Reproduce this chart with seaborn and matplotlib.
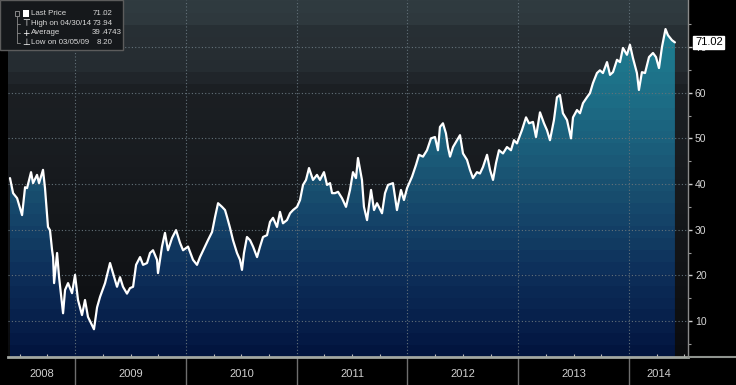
import numpy as np
import matplotlib
matplotlib.use("Agg")
import matplotlib.pyplot as plt
import matplotlib.transforms as mtransforms
from matplotlib.colors import to_rgb
from matplotlib.patches import Rectangle
from matplotlib.lines import Line2D
from matplotlib import font_manager
import seaborn as sns

# ---------------- data ----------------
year_frac = [
    2008.412, 2008.440, 2008.476, 2008.521, 2008.548, 2008.566, 2008.602, 2008.620,
    2008.656, 2008.674, 2008.710, 2008.728, 2008.755, 2008.773, 2008.792, 2008.801,
    2008.810, 2008.837, 2008.855, 2008.891, 2008.909, 2008.936, 2008.972, 2008.999,
    2009.026, 2009.062, 2009.089, 2009.116, 2009.170, 2009.198, 2009.225, 2009.270,
    2009.315, 2009.342, 2009.378, 2009.405, 2009.432, 2009.468, 2009.495, 2009.523,
    2009.550, 2009.586, 2009.613, 2009.649, 2009.676, 2009.703, 2009.739, 2009.748,
    2009.784, 2009.811, 2009.838, 2009.875, 2009.911, 2009.947, 2009.974, 2010.019,
    2010.064, 2010.100, 2010.127, 2010.172, 2010.199, 2010.236, 2010.263, 2010.290,
    2010.308, 2010.326, 2010.353, 2010.371, 2010.398, 2010.425, 2010.461, 2010.488,
    2010.506, 2010.524, 2010.551, 2010.579, 2010.606, 2010.642, 2010.669, 2010.696,
    2010.732, 2010.759, 2010.786, 2010.822, 2010.849, 2010.876, 2010.912, 2010.940,
    2010.967, 2011.003, 2011.030, 2011.057, 2011.084, 2011.111, 2011.147, 2011.183,
    2011.210, 2011.246, 2011.274, 2011.301, 2011.319, 2011.346, 2011.373, 2011.409,
    2011.445, 2011.481, 2011.508, 2011.535, 2011.553, 2011.589, 2011.607, 2011.635,
    2011.671, 2011.698, 2011.725, 2011.770, 2011.797, 2011.824, 2011.869, 2011.905,
    2011.941, 2011.968, 2011.996, 2012.041, 2012.077, 2012.104, 2012.140, 2012.176,
    2012.212, 2012.248, 2012.275, 2012.293, 2012.320, 2012.347, 2012.366, 2012.384,
    2012.411, 2012.447, 2012.474, 2012.501, 2012.537, 2012.564, 2012.591, 2012.627,
    2012.654, 2012.681, 2012.718, 2012.745, 2012.772, 2012.799, 2012.826, 2012.862,
    2012.898, 2012.934, 2012.961, 2012.988, 2013.033, 2013.070, 2013.097, 2013.133,
    2013.160, 2013.196, 2013.232, 2013.259, 2013.286, 2013.322, 2013.349, 2013.376,
    2013.403, 2013.440, 2013.476, 2013.494, 2013.530, 2013.557, 2013.584, 2013.620,
    2013.647, 2013.674, 2013.710, 2013.737, 2013.764, 2013.801, 2013.828, 2013.855,
    2013.891, 2013.918, 2013.945, 2013.981, 2014.008, 2014.035, 2014.071, 2014.089,
    2014.116, 2014.144, 2014.180, 2014.216, 2014.243, 2014.270, 2014.297, 2014.329,
    2014.351, 2014.387, 2014.414,
]
price = [
    41.3, 38.0, 36.9, 33.2, 39.3, 39.1, 42.6, 40.2,
    42.0, 40.2, 43.1, 39.1, 30.6, 29.9, 25.5, 24.0,
    18.3, 24.9, 19.6, 11.7, 16.8, 18.3, 16.1, 20.1,
    14.6, 11.3, 14.6, 10.9, 8.20, 13.0, 15.3, 18.3,
    22.7, 20.5, 17.5, 19.6, 17.5, 16.0, 17.2, 17.5,
    22.3, 24.0, 22.3, 22.7, 24.9, 25.5, 23.4, 20.5,
    26.3, 29.3, 25.5, 28.2, 29.9, 27.1, 25.5, 26.3,
    23.4, 22.3, 24.0, 26.3, 27.7, 29.5, 32.8, 35.8,
    35.4, 35.0, 34.3, 32.8, 30.4, 27.7, 24.9, 23.4,
    21.2, 24.9, 28.4, 27.7, 26.3, 24.0, 26.3, 28.4,
    28.8, 31.7, 32.6, 30.6, 33.9, 31.4, 32.1, 33.6,
    34.3, 35.0, 36.5, 39.8, 40.9, 43.5, 40.9, 42.0,
    40.9, 42.6, 39.8, 40.2, 38.0, 38.0, 38.3, 36.9,
    35.0, 38.7, 42.6, 41.3, 45.7, 40.9, 35.0, 32.1,
    38.7, 34.3, 35.8, 33.6, 38.0, 39.8, 40.2, 34.3,
    38.7, 36.5, 39.1, 41.6, 44.2, 46.4, 46.0, 47.4,
    50.0, 50.3, 47.4, 52.5, 53.3, 51.1, 48.0, 46.0,
    48.1, 49.6, 50.7, 46.7, 45.3, 43.1, 41.3, 42.6,
    42.3, 43.7, 46.4, 43.1, 40.9, 44.6, 47.4, 46.7,
    48.1, 47.4, 49.6, 48.9, 51.8, 54.6, 53.3, 53.6,
    50.3, 55.7, 53.3, 51.8, 49.6, 54.0, 59.0, 59.5,
    55.5, 54.0, 50.0, 54.6, 56.2, 55.5, 57.7, 59.0,
    59.9, 62.1, 64.3, 64.9, 64.3, 66.7, 63.9, 64.5,
    67.2, 66.7, 69.8, 68.3, 70.5, 67.6, 64.3, 60.6,
    64.5, 64.3, 67.8, 68.7, 67.8, 65.4, 70.0, 73.94,
    72.6, 71.5, 71.02,
]
year_labels = ["2008", "2009", "2010", "2011", "2012", "2013", "2014"]
year_bounds = [2009, 2010, 2011, 2012, 2013, 2014]
y_ticks = [10, 20, 30, 40, 50, 60, 70]
legend_names = ["Last Price", "High on 04/30/14", "Average", "Low on 03/05/09"]
legend_values = ["71.02", "73.94", "39.4743", "8.20"]
last_price = 71.02

# ---------------- style ----------------
sns.set_theme(style="dark")
plt.rcParams["font.family"] = ["Liberation Sans", "DejaVu Sans"]

installed = {f.name for f in font_manager.fontManager.ttflist}
narrow = "Liberation Sans Narrow" in installed
leg_family = ["Liberation Sans Narrow"] if narrow else ["Liberation Sans"]
leg_size = 7.0 if narrow else 5.7

W, H = 736, 385
fig = plt.figure(figsize=(W / 100, H / 100), dpi=100, facecolor="black")
ax = fig.add_axes([8 / W, 28 / H, 680 / W, 357 / H])
ax.set_facecolor("black")

x0, x1 = 2008.394, 2014.532
y0, y1 = 2.12, 80.3
ax.set_xlim(x0, x1)
ax.set_ylim(y0, y1)


def banded(stops, n=600, band=2.6):
    vals = np.linspace(y0, y1, n)
    b = np.floor((vals - y0) / band)
    vq = y0 + (b + 0.5) * band
    sv = [s[0] for s in stops]
    cols = np.array([to_rgb(s[1]) for s in stops])
    img = np.stack([np.interp(vq, sv, cols[:, k]) for k in range(3)], axis=-1)
    return img[:, None, :]


bg_stops = [(2, "#0a0b0d"), (20, "#111316"), (40, "#171a1e"), (62, "#1c2024"),
            (64.6, "#252c31"), (74.0, "#283035"), (74.3, "#2e383d"), (80.3, "#303b40")]
fill_stops = [(2, "#02133d"), (10, "#07204b"), (20, "#0d2e59"), (30, "#134066"),
              (40, "#195171"), (50, "#1b617d"), (60, "#1d6f87"), (70, "#1e7b8f"),
              (80.3, "#208598")]

ax.imshow(banded(bg_stops), extent=[x0, x1, y0, y1], origin="lower",
          aspect="auto", interpolation="nearest", zorder=0)

poly = ax.fill_between(year_frac, price, y0, facecolor="none", edgecolor="none")
fill_img = ax.imshow(banded(fill_stops), extent=[x0, x1, y0, y1], origin="lower",
                     aspect="auto", interpolation="nearest", zorder=0.2)
fill_img.set_clip_path(poly.get_paths()[0], transform=ax.transData)

sns.lineplot(x=year_frac, y=price, color="white", linewidth=1.6, ax=ax, zorder=3)
ax.set_xlabel("")
ax.set_ylabel("")

# grid
ax.set_axisbelow("line")
ax.grid(True, which="major", color="#64727a", linestyle=(0, (1, 2)), linewidth=0.8)

# y axis on the right
ax.yaxis.tick_right()
ax.set_yticks(y_ticks)
ax.set_yticks([5, 15, 25, 35, 45, 55, 65, 75], minor=True)
ax.tick_params(axis="y", which="major", direction="out", length=3, width=1,
               color="#cfcfcf", labelcolor="#d6d6d6", labelsize=7.5, pad=2,
               right=True, left=False)
ax.tick_params(axis="y", which="minor", direction="out", length=2, width=0.8,
               color="#9a9a9a", right=True, left=False)

# x axis: year separators + centred labels
ax.set_xticks(year_bounds)
ax.set_xticklabels([])
quarters = [q for q in np.arange(2008.5, 2014.6, 0.25) if x0 < q < x1 and q not in year_bounds]
ax.set_xticks(quarters, minor=True)
ax.tick_params(axis="x", which="major", direction="out", length=21, width=1,
               color="#6e6e6e", bottom=True)
ax.tick_params(axis="x", which="minor", direction="in", length=2, width=0.8,
               color="#c0c0c0", bottom=True)
edges = [x0] + year_bounds + [x1]
trans = mtransforms.blended_transform_factory(ax.transData, ax.transAxes)
for lab, a, b in zip(year_labels, edges[:-1], edges[1:]):
    ax.text((a + b) / 2, -0.048, lab, transform=trans, ha="center", va="center",
            color="#cfcfcf", fontsize=8)

for s in ["left", "top"]:
    ax.spines[s].set_visible(False)
ax.spines["bottom"].set_color("#a3a8a2")
ax.spines["bottom"].set_linewidth(2)
ax.spines["right"].set_color("#8a8a8a")
ax.spines["right"].set_linewidth(1)
fig.add_artist(Line2D([688 / W, 1], [28 / H, 28 / H], transform=fig.transFigure,
                      color="#8f948f", lw=1.5))

# last price tag (covers the 70 tick label, as in the reference)
ax.annotate(f"{last_price:.2f}", xy=(1, last_price), xycoords=("axes fraction", "data"),
            xytext=(5, 0), textcoords="offset points", ha="left", va="center",
            fontsize=8, color="black", zorder=20, annotation_clip=False,
            bbox=dict(boxstyle="square,pad=0.15", fc="white", ec="white"))

# legend panel (top-left)
def fx(px):
    return px / W


def fy(py):
    return 1 - py / H


fig.add_artist(Rectangle((0, fy(50)), fx(123), 50 / H, transform=fig.transFigure,
                         fc="#15181b", ec="#5c5c5c", lw=1, zorder=10))
rows = [13.5, 23.5, 33.0, 42.5]
fig.add_artist(Rectangle((fx(23), fy(17)), 6 / W, 7 / H, transform=fig.transFigure,
                         fc="white", ec="white", lw=0, zorder=11))
fig.add_artist(Rectangle((fx(15), fy(15.5)), 4 / W, 4 / H, transform=fig.transFigure,
                         fc="none", ec="#9a9a9a", lw=0.6, zorder=11))
fig.add_artist(Line2D([fx(17), fx(17)], [fy(16), fy(42.5)], transform=fig.transFigure,
                      color="#8a8a8a", lw=0.6, zorder=11))
for r in rows[1:]:
    fig.add_artist(Line2D([fx(17), fx(20)], [fy(r), fy(r)], transform=fig.transFigure,
                          color="#8a8a8a", lw=0.6, zorder=11))
icons = [None, "\u22a4", "+", "\u22a5"]
for r, ic in zip(rows, icons):
    if ic:
        fig.text(fx(26), fy(r), ic, ha="center", va="center", color="white",
                 fontsize=6.5, family=["DejaVu Sans"], zorder=12)
for r, name, val in zip(rows, legend_names, legend_values):
    fig.text(fx(31), fy(r), name, ha="left", va="center", color="#d8d8d8",
             fontsize=leg_size, family=leg_family, zorder=12)
    ip, dp = val.split(".")
    fig.text(fx(101), fy(r), ip, ha="right", va="center", color="#d8d8d8",
             fontsize=leg_size, family=leg_family, zorder=12)
    fig.text(fx(101), fy(r), "." + dp, ha="left", va="center", color="#d8d8d8",
             fontsize=leg_size, family=leg_family, zorder=12)

fig.savefig("out.png", dpi=100, facecolor="black")
